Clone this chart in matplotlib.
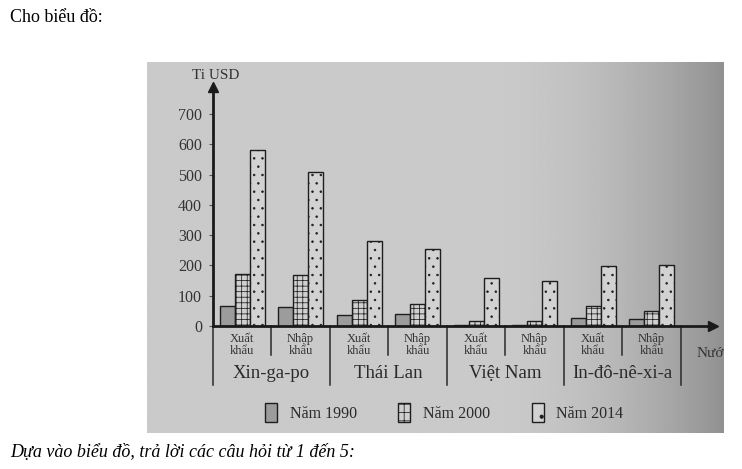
import numpy as np
import matplotlib
matplotlib.use("Agg")
import matplotlib.pyplot as plt
from matplotlib.patches import Patch
from matplotlib.transforms import blended_transform_factory

plt.rcParams['font.family'] = ['Liberation Serif', 'DejaVu Serif']
plt.rcParams['hatch.linewidth'] = 0.55

# du lieu doc tu bieu do (ti USD)
countries = ['Xin-ga-po', 'Thái Lan', 'Việt Nam', 'In-đô-nê-xi-a']
subcats = ['Xuất\nkhẩu', 'Nhập\nkhẩu']
years = ['Năm 1990', 'Năm 2000', 'Năm 2014']
v1990 = [65, 62, 36, 41, 2.4, 2.8, 27, 24]
v2000 = [172, 168, 85, 74, 15, 16, 65, 48]
v2014 = [583, 510, 280, 256, 160, 150, 198, 203]
yticks = [0, 100, 200, 300, 400, 500, 600, 700]

W, H = 742, 469
fig = plt.figure(figsize=(W / 100, H / 100), dpi=100)
fig.patch.set_facecolor('white')

def px(x0, y0, x1, y1):
    # pixel box -> figure fraction [left, bottom, width, height]
    return [x0 / W, 1 - y1 / H, (x1 - x0) / W, (y1 - y0) / H]

# nen xam cua anh chup
bg = fig.add_axes(px(147, 62, 724, 433))
bg.set_axis_off()
g = np.linspace(0, 1, 300)
shade = 0.79 - 0.22 * np.clip((g - 0.6) / 0.4, 0, 1) ** 1.8
bg.imshow(np.tile(shade, (10, 1)), cmap='gray', vmin=0, vmax=1, aspect='auto',
          extent=[0, 1, 0, 1])
bg.set_xlim(0, 1)
bg.set_ylim(0, 1)

ax = fig.add_axes(px(213, 87, 713, 326))
ax.patch.set_alpha(0)
ax.set_xlim(0, 8.55)
ax.set_ylim(0, 790)

x = np.arange(len(v1990)) + 0.5
w = 0.256
ec = '#1e1e1e'
ax.bar(x - w, v1990, w, color='#9c9c9c', edgecolor=ec, linewidth=1)
ax.bar(x, v2000, w, color='#d0d0d0', edgecolor=ec, linewidth=1, hatch='+++')
ax.bar(x + w, v2014, w, color='#d2d2d2', edgecolor=ec, linewidth=1, hatch='..')

for s in ['top', 'right']:
    ax.spines[s].set_visible(False)
ax.spines['left'].set_linewidth(2)
ax.spines['bottom'].set_linewidth(2)
ax.spines['left'].set_color('#1a1a1a')
ax.spines['bottom'].set_color('#1a1a1a')
ax.plot(0, 1, '^', color='#1a1a1a', ms=7, transform=ax.transAxes, clip_on=False)
ax.plot(1, 0, '>', color='#1a1a1a', ms=7, transform=ax.transAxes, clip_on=False)

ax.set_yticks(yticks)
ax.set_yticklabels([str(t) for t in yticks], fontsize=11.5, color='#333333')
ax.tick_params(axis='y', length=3, width=0.8, pad=5, color='#555555')
ax.set_xticks([])
ax.text(0.05, 805, 'Ti USD', fontsize=11, color='#333333', ha='center', va='bottom')

# bang ten duoi truc hoanh
tr = blended_transform_factory(ax.transData, ax.transAxes)
for i in range(len(countries) * 2 + 1):
    long = i % 2 == 0
    ax.plot([i, i], [0, -0.245 if long else -0.12], color='#2a2a2a', lw=1.1,
            transform=tr, clip_on=False)
for i in range(len(countries) * 2):
    ax.text(i + 0.5, -0.08, subcats[i % 2], transform=tr, ha='center', va='center',
            fontsize=9, color='#333333', linespacing=1.0)
for j, c in enumerate(countries):
    ax.text(2 * j + 1, -0.2, c, transform=tr, ha='center', va='center',
            fontsize=13.5, color='#2a2a2a')

bg.text(0.953, 0.215, 'Nước', fontsize=11, color='#333333', ha='left', va='center',
        clip_on=True)

handles = [Patch(facecolor='#9c9c9c', edgecolor=ec),
           Patch(facecolor='#d0d0d0', edgecolor=ec, hatch='++'),
           Patch(facecolor='#d2d2d2', edgecolor=ec, hatch='.')]
bg.legend(handles, years, loc='center', bbox_to_anchor=(0.515, 0.055), ncol=3,
          frameon=False, handlelength=0.75, handleheight=1.5, columnspacing=2.6,
          handletextpad=0.8, prop={'size': 11.5}, labelcolor='#2a2a2a')

fig.text(10 / W, 1 - 18 / H, 'Cho biểu đồ:', fontsize=13, va='center', ha='left')
fig.text(10 / W, 1 - 452 / H, 'Dựa vào biểu đồ, trả lời các câu hỏi từ 1 đến 5:',
         fontsize=13, style='italic', va='center', ha='left')

fig.savefig('out.png', dpi=100)
